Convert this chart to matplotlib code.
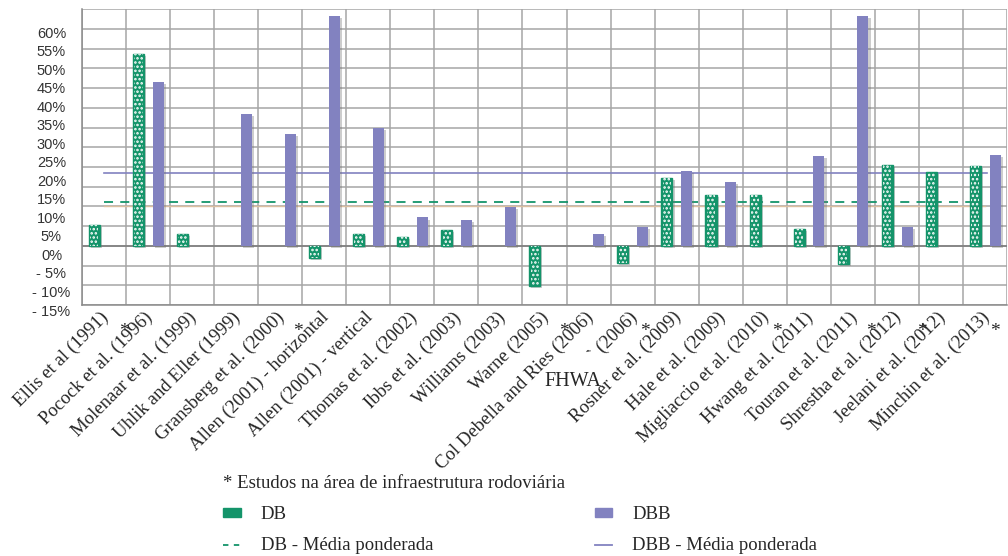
import numpy as np
import matplotlib
matplotlib.use("Agg")
import matplotlib.pyplot as plt
from matplotlib.patches import Patch
from matplotlib.lines import Line2D
from matplotlib import patheffects as pe
from matplotlib.transforms import ScaledTranslation

# Cost growth by study: design-build (DB) vs design-bid-build (DBB), in %
studies = ["Ellis et al (1991)", "Pocock et al. (1996)", "Molenaar et al. (1999)",
           "Uhlik and Eller (1999)", "Gransberg et al. (2000)", "Allen (2001) - horizontal",
           "Allen (2001) - vertical", "Thomas et al. (2002)", "Ibbs et al. (2003)",
           "Williams (2003)", "Warne (2005)", "Col Debella and Ries (2006)", "` (2006)",
           "Rosner et al. (2009)", "Hale et al. (2009)", "Migliaccio et al. (2010)",
           "Hwang et al. (2011)", "Touran et al. (2011)", "Shrestha et al. (2012)",
           "Jeelani et al. (2012)", "Minchin et al. (2013)"]
db = [5.2, 48.6, 3.0, None, None, -3.1, 3.0, 2.2, 4.1, None, -10.1, None, -4.4,
      17.3, 13.0, 13.0, 4.2, -4.6, 20.6, 18.7, 20.3]
dbb = [None, 41.5, None, 33.4, 28.4, 58.3, 30.0, 7.2, 6.6, 9.9, None, 3.1, 4.9,
       18.9, 16.2, None, 22.9, 58.3, 4.9, None, 23.1]
db_mean = 11.0
dbb_mean = 18.4
ref_level = 10.0
# road-infrastructure studies get an asterisk (x position in category units)
star_x = [0.45, 4.41, 10.45, 12.27, 15.27, 17.41, 18.57, 20.23]
yticks = list(range(-15, 65, 5))

GREEN = "#14946a"
PURPLE = "#8282c0"
GRID = "#a6a6a6"
TEXT = "#262626"
serif = "Liberation Serif"

fig = plt.figure(figsize=(10.08, 5.56), dpi=100)
W, H = 1008, 556
ax = fig.add_axes([82 / W, (H - 305) / H, (1007 - 82) / W, (305 - 9.3) / H])

x = np.arange(len(studies))
shadow = [pe.SimplePatchShadow(offset=(1.5, -1.5), shadow_rgbFace="#707070", alpha=0.35), pe.Normal()]

db_idx = [i for i, v in enumerate(db) if v is not None]
db_val = [db[i] for i in db_idx]
dbb_idx = [i for i, v in enumerate(dbb) if v is not None]
dbb_val = [dbb[i] for i in dbb_idx]

w = 0.25
db_pos = np.array(db_idx) - 0.22
dbb_pos = np.array(dbb_idx) + 0.23

# mean lines sit behind the bars
ax.plot([0, 20.05], [dbb_mean, dbb_mean], color=PURPLE, lw=1.2, zorder=2)
ax.plot([0, 19.7], [db_mean, db_mean], color=GREEN, lw=1.3, ls=(0, (5, 4)), zorder=2)
ax.plot([0, 20.0], [ref_level, ref_level], color="#dcbfa0", lw=1.0, zorder=1.8)

base = ax.bar(db_pos, db_val, width=w, color=GREEN, edgecolor=GREEN, lw=1.0, zorder=3)
for b in base:
    b.set_path_effects(shadow)
plt.rcParams["hatch.linewidth"] = 1.2
ax.bar(db_pos, db_val, width=w * 0.75, facecolor="none", edgecolor="white",
       hatch="....", lw=0, zorder=4)
bars2 = ax.bar(dbb_pos, dbb_val, width=w, color=PURPLE, lw=0, zorder=3)
for b in bars2:
    b.set_path_effects(shadow)

ax.set_xlim(-0.5, 20.5)
ax.set_ylim(-15, 60)

# grid: horizontal every 5 %, vertical between categories
ax.set_yticks(yticks)
ax.set_yticklabels([])
ax.tick_params(axis="y", length=0)
ax.set_xticks(np.arange(-0.5, 21, 1), minor=True)
ax.grid(True, which="major", axis="y", color=GRID, lw=1.1)
ax.grid(True, which="minor", axis="x", color=GRID, lw=1.1)
ax.set_axisbelow(True)
ax.axhline(0, color="#7a7a7a", lw=1.1, zorder=2.5)
for s in ["top", "right"]:
    ax.spines[s].set_visible(False)
for s in ["left", "bottom"]:
    ax.spines[s].set_color("#8a8a8a")
    ax.spines[s].set_linewidth(1.1)

ax.set_xticks(x)
ax.set_xticklabels(studies, rotation=45, ha="right", va="center",
                   rotation_mode="anchor", fontsize=13.5, family=serif, color=TEXT)
ax.tick_params(axis="x", which="both", length=0, pad=7)
off = ScaledTranslation(2 / 100, 0, fig.dpi_scale_trans)
for t in ax.get_xticklabels():
    t.set_transform(t.get_transform() + off)

for sx in star_x:
    ax.text(sx, -0.09, "*", transform=ax.get_xaxis_transform(), ha="center",
            va="center", fontsize=14, family=serif, color=TEXT)
ax.text(10.64, -0.26, "FHWA", transform=ax.get_xaxis_transform(), ha="center",
        va="center", fontsize=14.5, family=serif, color=TEXT)

# percent scale on the left
lab = fig.add_axes([82 / W, (H - 310) / H, 0.001, (310 - 32.3) / H])
lab.set_ylim(-15, 60)
lab.set_yticks(yticks)
lab.set_yticklabels([f"{v}%" if v >= 0 else f"- {abs(v)}%" for v in yticks],
                    fontsize=10.5, family="Liberation Sans", color="#333333")
lab.tick_params(axis="y", length=0, pad=22)
for t in lab.get_yticklabels():
    t.set_ha("center")
lab.set_xticks([])
for s in lab.spines.values():
    s.set_visible(False)
lab.patch.set_visible(False)

handles = [
    Patch(facecolor=GREEN, edgecolor=GREEN, hatch="..", label="DB"),
    Line2D([], [], color=GREEN, lw=1.3, ls=(0, (3, 3)), label="DB - Média ponderada"),
    Patch(facecolor=PURPLE, edgecolor=PURPLE, label="DBB"),
    Line2D([], [], color=PURPLE, lw=1.3, label="DBB - Média ponderada"),
]
leg = fig.legend(handles=handles, ncol=2, loc="upper left", bbox_to_anchor=(214 / W, 1 - 466 / H),
                 frameon=False, prop={"family": serif, "size": 13.5},
                 title="* Estudos na área de infraestrutura rodoviária",
                 title_fontproperties={"family": serif, "size": 13.5},
                 alignment="left", handlelength=0.95, handleheight=0.35,
                 handletextpad=1.05, columnspacing=8.6, labelspacing=0.75, borderpad=0)
for t in leg.get_texts():
    t.set_color(TEXT)
leg.get_title().set_color(TEXT)

fig.savefig("out.png", dpi=100)
